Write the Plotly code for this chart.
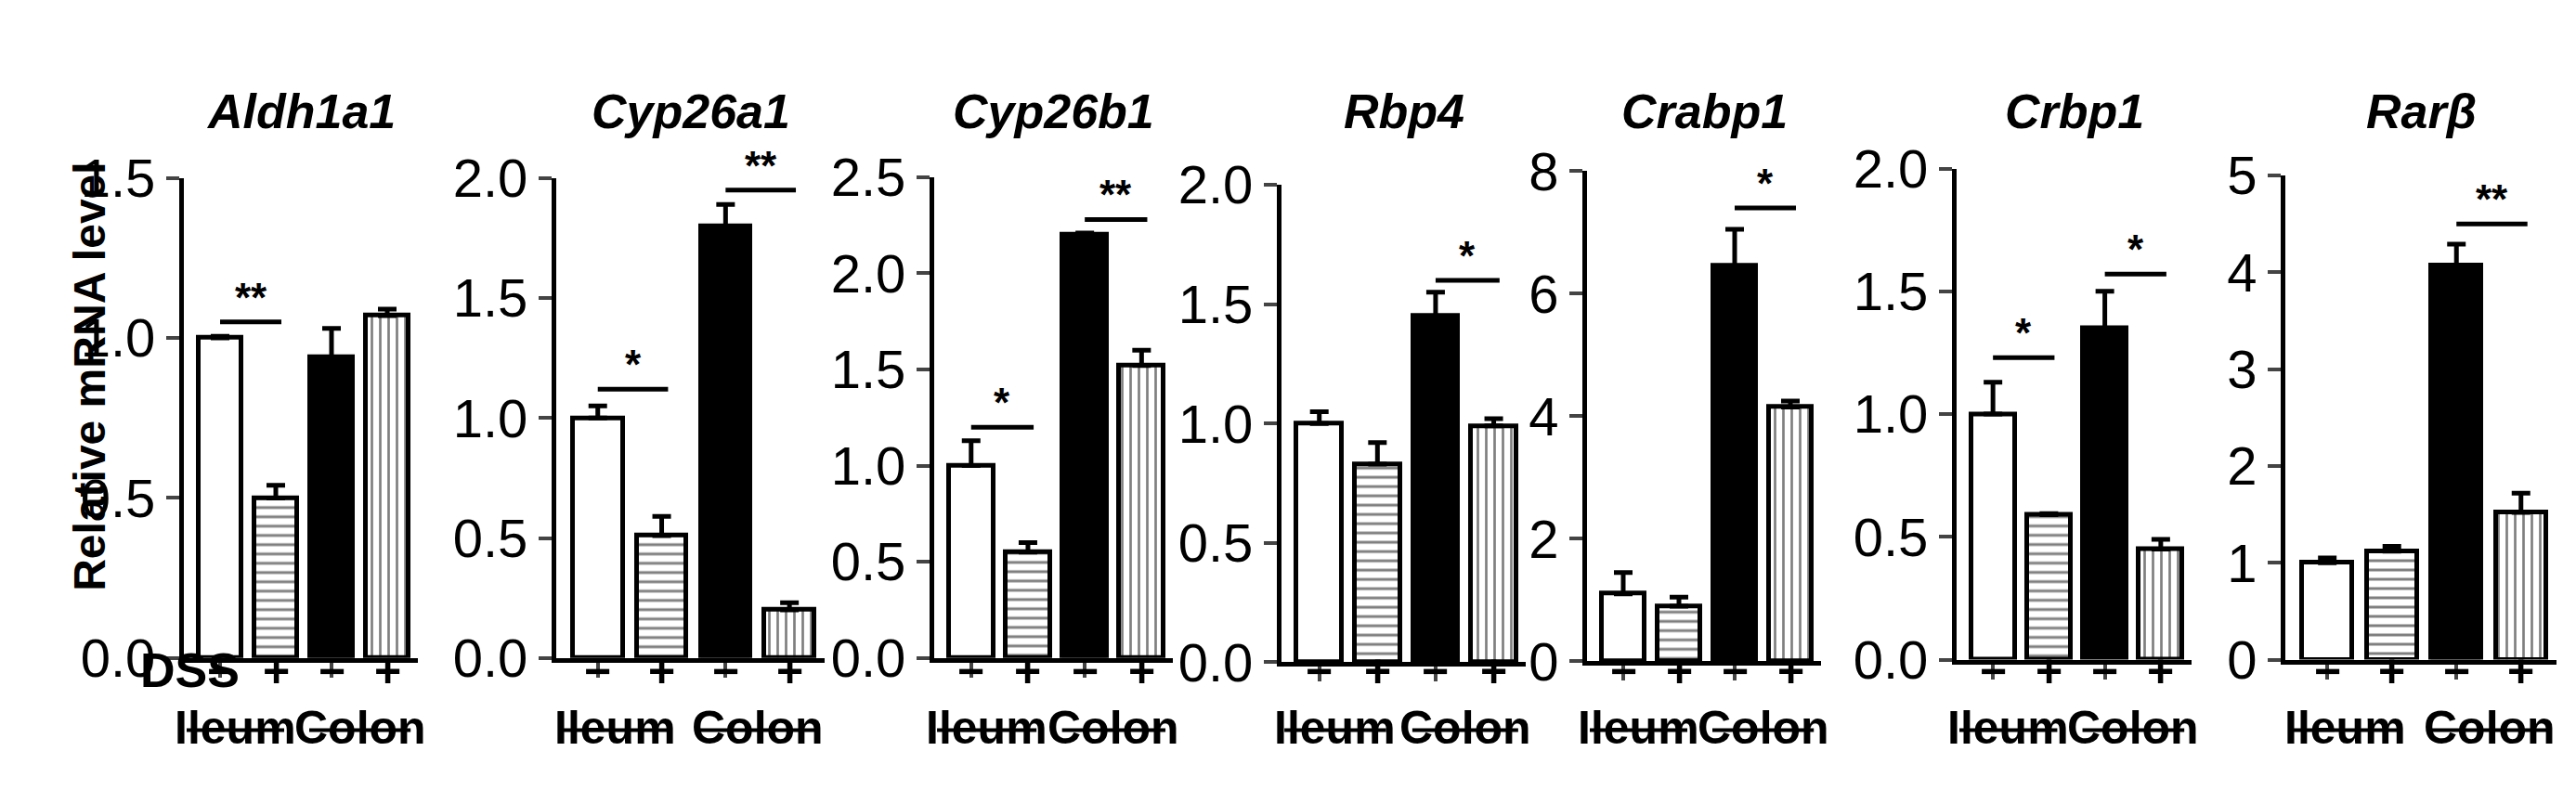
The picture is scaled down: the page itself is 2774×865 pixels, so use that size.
import plotly.graph_objects as go

genes = ["Aldh1a1", "Cyp26a1", "Cyp26b1", "Rbp4", "Crabp1", "Crbp1", "Rarβ"]
means = [
    [1.0, 0.50, 0.94, 1.07],
    [1.0, 0.51, 1.80, 0.20],
    [1.0, 0.55, 2.20, 1.52],
    [1.0, 0.83, 1.45, 0.99],
    [1.1, 0.90, 6.45, 4.15],
    [1.0, 0.59, 1.35, 0.45],
    [1.0, 1.12, 4.07, 1.52],
]
errors = [
    [0.005, 0.04, 0.09, 0.02],
    [0.05, 0.08, 0.09, 0.03],
    [0.13, 0.05, 0.01, 0.08],
    [0.05, 0.09, 0.10, 0.03],
    [0.35, 0.15, 0.60, 0.10],
    [0.13, 0.005, 0.15, 0.04],
    [0.05, 0.05, 0.22, 0.20],
]
ymax = [1.5, 2.0, 2.5, 2.0, 8, 2.0, 5]
dtick = [0.5, 0.5, 0.5, 0.5, 2, 0.5, 1]
tickfmt = [".1f", ".1f", ".1f", ".1f", "d", ".1f", "d"]
# significance marks: (panel, left bar, right bar, height, label)
sig = [
    (0, 0, 1, 1.05, "**"),
    (1, 0, 1, 1.12, "*"), (1, 2, 3, 1.95, "**"),
    (2, 0, 1, 1.20, "*"), (2, 2, 3, 2.28, "**"),
    (3, 2, 3, 1.60, "*"),
    (4, 2, 3, 7.4, "*"),
    (5, 0, 1, 1.23, "*"), (5, 2, 3, 1.57, "*"),
    (6, 2, 3, 4.5, "**"),
]
dss = ["−", "+", "−", "+"]
tissues = ["Ileum", "Colon"]

W, H = 2774, 865
x_px = [(190, 442), (591, 880), (998, 1255), (1372, 1635),
        (1701, 1953), (2099, 2352), (2453, 2745)]
y_px = [(163, 722), (163, 722), (162, 722), (171, 727),
        (155, 726), (152, 724), (160, 724)]
FONT = "Liberation Sans"
NARROW = "Liberation Sans Narrow, Arial Narrow, Liberation Sans"

fills = [
    dict(color="white", pattern=dict(shape="")),
    dict(color="white", pattern=dict(shape="-", fgcolor="black", bgcolor="white", size=10, solidity=0.3)),
    dict(color="black", pattern=dict(shape="")),
    dict(color="white", pattern=dict(shape="|", fgcolor="black", bgcolor="white", size=9, solidity=0.3)),
]

fig = go.Figure()
shapes, annots = [], []
for i, g in enumerate(genes):
    n = "" if i == 0 else str(i + 1)
    for j in range(4):
        fig.add_trace(go.Bar(
            x=[j], y=[means[i][j]], xaxis="x" + n, yaxis="y" + n, width=0.78,
            marker=dict(color=fills[j]["color"], pattern=fills[j]["pattern"],
                        line=dict(color="black", width=5)),
            error_y=dict(type="data", array=[errors[i][j]], arrayminus=[0],
                         symmetric=False, color="black", thickness=5, width=10),
            showlegend=False,
        ))
    x0, x1 = x_px[i]
    ytop, ybot = y_px[i]
    fig.update_layout(**{
        "xaxis" + n: dict(domain=[x0 / W, x1 / W], anchor="y" + n, range=[-0.65, 3.55],
                          tickvals=[0, 1, 2, 3], showticklabels=False, ticks="outside",
                          ticklen=16, tickwidth=4, showline=True, linewidth=5,
                          linecolor="black", showgrid=False, zeroline=False),
        "yaxis" + n: dict(domain=[1 - ybot / H, 1 - ytop / H], anchor="x" + n,
                          range=[0, ymax[i]], dtick=dtick[i],
                          tickformat=tickfmt[i], ticks="outside", ticklen=14, tickwidth=4,
                          showline=True, linewidth=5, linecolor="black", showgrid=False,
                          zeroline=False,
                          tickfont=dict(size=58, color="black", family=NARROW)),
    })
    xr = "x" + n
    annots.append(dict(text="<b><i>%s</i></b>" % g, x=1.45, xref=xr, y=1 - 52 / H,
                       yref="paper", showarrow=False,
                       font=dict(size=52, family=FONT, color="black")))
    for j in range(4):
        annots.append(dict(text="<b>%s</b>" % dss[j], x=j, xref=xr, y=1 - 770 / H,
                           yref="paper", showarrow=False,
                           font=dict(size=50, family=FONT, color="black")))
    for (a, b), t in zip([(-0.6, 1.15), (1.6, 3.42)], tissues):
        shapes.append(dict(type="line", xref=xr, yref="paper", x0=a, x1=b,
                           y0=1 - 806 / H, y1=1 - 806 / H,
                           line=dict(color="black", width=4)))
        annots.append(dict(text="<b>%s</b>" % t, x=(a + b) / 2, xref=xr, y=1 - 836 / H,
                           yref="paper", showarrow=False,
                           font=dict(size=50, family=NARROW, color="black")))

for p, a, b, h, lab in sig:
    n = "" if p == 0 else str(p + 1)
    shapes.append(dict(type="line", xref="x" + n, yref="y" + n, x0=a, x1=b + 0.1,
                       y0=h, y1=h, line=dict(color="black", width=5)))
    annots.append(dict(text="<b>%s</b>" % lab, x=(a + b) / 2 + 0.05, xref="x" + n, y=h,
                       yref="y" + n, yanchor="bottom", showarrow=False,
                       font=dict(size=44, family=FONT, color="black")))

annots.append(dict(text="<b>DSS</b>", x=141 / W, xref="paper", y=1 - 770 / H,
                   yref="paper", showarrow=False,
                   font=dict(size=52, family=NARROW, color="black")))
annots.append(dict(text="<b>Relative mRNA level</b>", x=60 / W, xref="paper",
                   y=1 - 395 / H, yref="paper", textangle=-90, showarrow=False,
                   font=dict(size=48, family=FONT, color="black")))

fig.update_layout(
    width=W, height=H, plot_bgcolor="white", paper_bgcolor="white",
    margin=dict(l=0, r=0, t=0, b=0), bargap=0, shapes=shapes, annotations=annots,
)
fig.write_html("out.html")
